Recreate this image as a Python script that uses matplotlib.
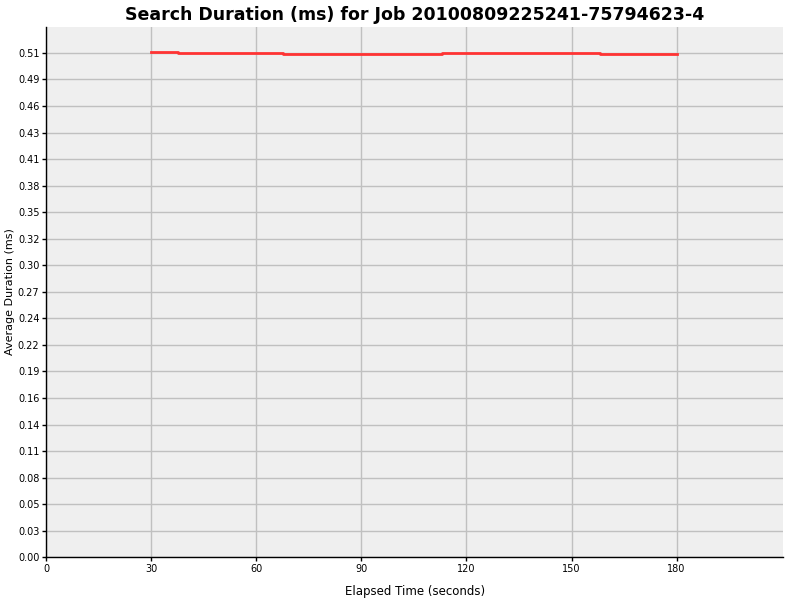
import matplotlib
matplotlib.use('Agg')
import matplotlib.pyplot as plt
from matplotlib.ticker import MultipleLocator, FormatStrFormatter

# elapsed time (s) and average search duration (ms)
elapsed = [30, 37.5, 67.5, 113, 158, 180]
duration = [0.5144, 0.5134, 0.5124, 0.5134, 0.5124, 0.5124]
x_ticks = [0, 30, 60, 90, 120, 150, 180]

fig = plt.figure(figsize=(8, 6), dpi=100)
ax = fig.add_axes([0.0579, 0.0712, 0.9213, 0.8843])
ax.set_facecolor('#efefef')

ax.plot(elapsed, duration, drawstyle='steps-post', color='#ff3333', linewidth=2, zorder=3)

ax.set_xlim(0, 210.5)
ax.set_ylim(0, 0.5405)
ax.set_xticks(x_ticks)
ax.yaxis.set_major_locator(MultipleLocator(0.02704))
ax.yaxis.set_major_formatter(FormatStrFormatter('%.2f'))

ax.grid(True, color='#c0c0c0', linewidth=1, linestyle='-')
ax.set_axisbelow(True)
for s in ['top', 'right']:
    ax.spines[s].set_visible(False)
for s in ['left', 'bottom']:
    ax.spines[s].set_color('black')
    ax.spines[s].set_linewidth(1)
ax.tick_params(direction='out', length=3, width=1, labelsize=7, colors='black', pad=2)

ax.set_title('Search Duration (ms) for Job 20100809225241-75794623-4',
             fontsize=12.5, fontweight='bold', pad=5)
ax.set_xlabel('Elapsed Time (seconds)', fontsize=8.5, labelpad=8)
ax.set_ylabel('Average Duration (ms)', fontsize=8)
ax.yaxis.set_label_coords(-0.042, 0.5)

fig.savefig('out.png', dpi=100)
